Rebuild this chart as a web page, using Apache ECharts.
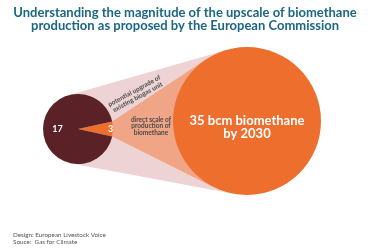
<!DOCTYPE html>
<html><head><meta charset="utf-8">
<script src="https://cdn.jsdelivr.net/npm/echarts@6/dist/echarts.min.js"></script>
<style>html,body{margin:0;padding:0;background:#fff}#c{width:370px;height:250px}</style>
</head><body><div id="c"></div>
<script>
// ---- data ----
var titleLines = ['Understanding the magnitude of the upscale of biomethane', 'production as proposed by the European Commission'];
var pieNames = ['direct scale of production of biomethane', 'potential upgrade of existing biogas unit'];
var pieValues = [3, 17];            // labels shown in the small circle (bcm)
var pieShares = [6.8, 93.2];        // slice sizes as drawn in the picture (%)
var targetValue = 35;               // bcm biomethane
var targetYear = 2030;
var annotUpper = ['potential upgrade of', 'existing biogas unit'];
var annotLower = ['direct scale of', 'production of', 'biomethane'];
var footer = ['Design: European Livestock Voice', 'Souce:  Gas for Climate'];

// ---- layout ----
var S = {x: 78, y: 129, r: 35};
var B = {x: 247, y: 121, r: 74};
var wedgeDeg = pieShares[0] / 100 * 360;

function extTangent(c1, c2, sign) {
  var dx = c2.x - c1.x, dy = c2.y - c1.y, D = Math.hypot(dx, dy);
  var th = Math.atan2(dy, dx), a = Math.acos((c1.r - c2.r) / D);
  var ang = th + sign * a;
  return [[c1.x + c1.r * Math.cos(ang), c1.y + c1.r * Math.sin(ang)],
          [c2.x + c2.r * Math.cos(ang), c2.y + c2.r * Math.sin(ang)]];
}
function ptTangent(p, c, sign) {
  var dx = p[0] - c.x, dy = p[1] - c.y, d = Math.hypot(dx, dy);
  var ang = Math.atan2(dy, dx) + sign * Math.acos(c.r / d);
  return [c.x + c.r * Math.cos(ang), c.y + c.r * Math.sin(ang)];
}
var up = extTangent(S, B, -1), dn = extTangent(S, B, 1);
var h = wedgeDeg / 2 * Math.PI / 180;
var wUp = [S.x + S.r * Math.cos(-h), S.y + S.r * Math.sin(-h)];
var wDn = [S.x + S.r * Math.cos(h), S.y + S.r * Math.sin(h)];
var tUp = ptTangent(wUp, B, 1), tDn = ptTangent(wDn, B, -1);

var chart = echarts.init(document.getElementById('c'), null, {renderer: 'canvas'});
var txt = '#4a4a4a';
chart.setOption({
  animation: false,
  title: {
    text: titleLines.join('\n'), left: 'center', top: 1,
    textStyle: {fontFamily: 'Lato', fontWeight: 'bold', fontSize: 13, lineHeight: 13, color: '#1b6783'}
  },
  graphic: [
    {type: 'polygon', z: 0, shape: {points: [up[0], up[1], dn[1], dn[0]]}, style: {fill: '#edd3d3'}},
    {type: 'polygon', z: 0, shape: {points: [wUp, tUp, tDn, wDn]}, style: {fill: '#f1a587'}},
    {type: 'text', z: 10, x: 136, y: 94, rotation: 0.50,
     style: {text: annotUpper.join('\n'), fill: txt, font: 'bold 6.5px Lato', align: 'center', verticalAlign: 'middle', lineHeight: 7}},
    {type: 'text', z: 10, x: 151, y: 126,
     style: {text: annotLower.join('\n'), fill: txt, font: 'bold 6.5px Lato', align: 'center', verticalAlign: 'middle', lineHeight: 6.5}},
    {type: 'text', z: 10, left: 13, top: 231,
     style: {text: footer.join('\n'), fill: '#555', font: '6.3px Lato', lineHeight: 7.5}}
  ],
  series: [
    {
      type: 'pie', z: 5, center: [S.x, S.y], radius: [0, S.r], startAngle: wedgeDeg / 2, clockwise: true,
      silent: true, labelLine: {show: false},
      label: {show: true, position: 'inside', color: '#fff', fontFamily: 'Lato', fontWeight: 'bold', fontSize: 9,
        formatter: function (p) { return pieValues[p.dataIndex]; }},
      labelLayout: function (p) { return p.dataIndex === 0 ? {dx: 12} : {}; },
      data: [
        {name: pieNames[0], value: pieShares[0], itemStyle: {color: '#ee6e2e'}},
        {name: pieNames[1], value: pieShares[1], itemStyle: {color: '#5a2127'}}
      ]
    },
    {
      type: 'pie', z: 5, center: [B.x, B.y], radius: [0, B.r], silent: true, labelLine: {show: false},
      label: {show: true, position: 'center', color: '#fff', fontFamily: 'Lato', fontWeight: 'bold', fontSize: 13, lineHeight: 13,
        formatter: function () { return targetValue + ' bcm biomethane\nby ' + targetYear; }},
      labelLayout: {dy: 6},
      data: [{name: 'target', value: targetValue, itemStyle: {color: '#ee6e2e'}}]
    }
  ]
});
</script></body></html>
